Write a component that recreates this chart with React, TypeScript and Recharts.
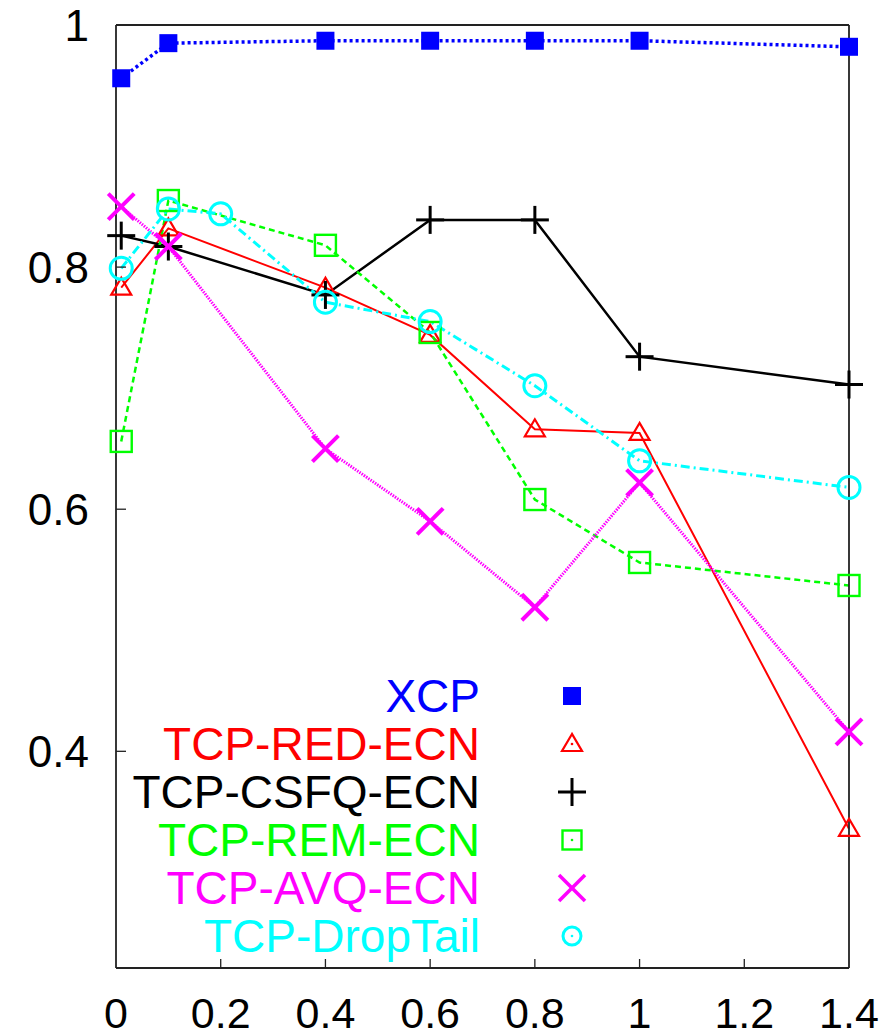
import React from 'react';
import { LineChart, Line, XAxis, YAxis, Legend } from 'recharts';

const xVals = [0.01, 0.1, 0.4, 0.6, 0.8, 1.0, 1.4];
const dropTailX = [0.01, 0.1, 0.2, 0.4, 0.6, 0.8, 1.0, 1.4];

const xcpVals = [0.956, 0.985, 0.987, 0.987, 0.987, 0.987, 0.982];
const redVals = [0.783, 0.832, 0.783, 0.744, 0.666, 0.663, 0.336];
const csfqVals = [0.826, 0.817, 0.777, 0.839, 0.839, 0.726, 0.703];
const remVals = [0.656, 0.855, 0.818, 0.746, 0.608, 0.556, 0.537];
const avqVals = [0.85, 0.817, 0.65, 0.59, 0.519, 0.622, 0.416];
const dropTailVals = [0.799, 0.848, 0.844, 0.771, 0.755, 0.702, 0.64, 0.618];

const xTicks = [0, 0.2, 0.4, 0.6, 0.8, 1, 1.2, 1.4];
const yTicks = [0.4, 0.6, 0.8, 1];

const seriesNames = ['XCP', 'TCP-RED-ECN', 'TCP-CSFQ-ECN', 'TCP-REM-ECN', 'TCP-AVQ-ECN', 'TCP-DropTail'];
const seriesColors = ['#0000ff', '#ff0000', '#000000', '#00ff00', '#ff00ff', '#00ffff'];
const markerKinds = ['fsquare', 'triangle', 'plus', 'square', 'cross', 'circle'];

const toRows = (xs: number[], ys: number[]) => xs.map((x, i) => ({ x, y: ys[i] }));
const xcpData = toRows(xVals, xcpVals);
const redData = toRows(xVals, redVals);
const csfqData = toRows(xVals, csfqVals);
const remData = toRows(xVals, remVals);
const avqData = toRows(xVals, avqVals);
const dropTailData = toRows(dropTailX, dropTailVals);

const FONT = '"Liberation Sans", Arial, Helvetica, sans-serif';
const AXIS = '#222';

function Marker({ kind, cx, cy, color, legend }: any) {
  if (cx == null || cy == null) return null;
  const dot = legend ? <circle cx={cx} cy={cy} r={1.3} fill={color} /> : null;
  switch (kind) {
    case 'fsquare': {
      const s = 18;
      return <rect x={cx - s / 2} y={cy - s / 2} width={s} height={s} fill={color} />;
    }
    case 'triangle':
      return (
        <g>
          <polygon points={`${cx},${cy - 10} ${cx - 10},${cy + 7} ${cx + 10},${cy + 7}`} fill="none" stroke={color} strokeWidth={2.2} />
          {dot}
        </g>
      );
    case 'plus':
      return (
        <g stroke={color} strokeWidth={3}>
          <line x1={cx - 14} y1={cy} x2={cx + 14} y2={cy} />
          <line x1={cx} y1={cy - 14} x2={cx} y2={cy + 14} />
        </g>
      );
    case 'square': {
      const s = legend ? 19 : 21;
      return (
        <g>
          <rect x={cx - s / 2} y={cy - s / 2} width={s} height={s} fill="none" stroke={color} strokeWidth={2.4} />
          {dot}
        </g>
      );
    }
    case 'cross':
      return (
        <g stroke={color} strokeWidth={legend ? 3.5 : 4}>
          <line x1={cx - 13} y1={cy - 13} x2={cx + 13} y2={cy + 13} />
          <line x1={cx - 13} y1={cy + 13} x2={cx + 13} y2={cy - 13} />
        </g>
      );
    case 'circle':
      return (
        <g>
          <circle cx={cx} cy={cy} r={legend ? 9 : 11} fill="none" stroke={color} strokeWidth={3} />
          {dot}
        </g>
      );
    default:
      return null;
  }
}

const makeDot = (i: number) => (p: any) => (
  <g key={`d${i}-${p.index}`}>
    <Marker kind={markerKinds[i]} cx={p.cx} cy={p.cy} color={seriesColors[i]} />
  </g>
);

const fmt = (v: number) => String(v);

const BottomTick = (p: any) => {
  const { x, y, payload } = p;
  const v = payload.value;
  const inner = v > 0 && v < 1.4;
  return (
    <g>
      {inner && <line x1={x} y1={y} x2={x} y2={y - 9} stroke={AXIS} strokeWidth={1.3} />}
      <text x={x} y={y + 60} textAnchor="middle" fontSize={43} fontFamily={FONT} fill="#000">
        {fmt(v)}
      </text>
    </g>
  );
};

const TopTick = (p: any) => {
  const { x, y, payload } = p;
  const v = payload.value;
  const inner = v > 0 && v < 1.4;
  return inner ? <line x1={x} y1={y} x2={x} y2={y + 9} stroke={AXIS} strokeWidth={1.3} /> : <g />;
};

const LeftTick = (p: any) => {
  const { x, y, payload } = p;
  const v = payload.value;
  return (
    <g>
      {v < 1 && <line x1={x} y1={y} x2={x + 10} y2={y} stroke={AXIS} strokeWidth={1.3} />}
      <text x={x - 27} y={y + 16} textAnchor="end" fontSize={44} fontFamily={FONT} fill="#000">
        {fmt(v)}
      </text>
    </g>
  );
};

const RightTick = (p: any) => {
  const { x, y, payload } = p;
  const v = payload.value;
  return v < 1 ? <line x1={x} y1={y} x2={x - 10} y2={y} stroke={AXIS} strokeWidth={1.3} /> : <g />;
};

const renderLegend = () => (
  <svg width={520} height={310} style={{ display: 'block', overflow: 'visible' }}>
    {seriesNames.map((name, i) => {
      const cy = 36 + i * 48;
      return (
        <g key={name}>
          <text x={380} y={cy + 16} textAnchor="end" fontSize={46} fontFamily={FONT} fill={seriesColors[i]}>
            {name}
          </text>
          <Marker kind={markerKinds[i]} cx={472} cy={cy} color={seriesColors[i]} legend />
        </g>
      );
    })}
  </svg>
);

export default function App() {
  return (
    <div style={{ position: 'absolute', left: 0, top: 0, width: 894, height: 1036, background: '#fff' }}>
      <LineChart width={894} height={1036} margin={{ top: 24, right: 44, bottom: 0, left: 0 }}>
        <XAxis
          xAxisId="b"
          type="number"
          dataKey="x"
          domain={[0, 1.4]}
          ticks={xTicks}
          height={68}
          tickSize={0}
          tickMargin={0}
          tickLine={false}
          tick={<BottomTick />}
          axisLine={{ stroke: AXIS, strokeWidth: 1.8 }}
        />
        <XAxis
          xAxisId="t"
          orientation="top"
          type="number"
          dataKey="x"
          domain={[0, 1.4]}
          ticks={xTicks}
          height={1}
          tickSize={0}
          tickMargin={0}
          tickLine={false}
          tick={<TopTick />}
          axisLine={{ stroke: AXIS, strokeWidth: 1.8 }}
        />
        <YAxis
          yAxisId="l"
          type="number"
          domain={[0.221, 1]}
          ticks={yTicks}
          width={116}
          tickSize={0}
          tickMargin={0}
          tickLine={false}
          tick={<LeftTick />}
          axisLine={{ stroke: AXIS, strokeWidth: 1.8 }}
        />
        <YAxis
          yAxisId="r"
          orientation="right"
          type="number"
          domain={[0.221, 1]}
          ticks={yTicks}
          width={1}
          tickSize={0}
          tickMargin={0}
          tickLine={false}
          tick={<RightTick />}
          axisLine={{ stroke: AXIS, strokeWidth: 1.8 }}
        />
        <Legend
          layout="horizontal"
          verticalAlign="middle"
          align="center"
          content={renderLegend}
          wrapperStyle={{ left: 100, top: 660, width: 520, height: 310, pointerEvents: 'none' }}
        />
        <Line xAxisId="b" yAxisId="l" data={xcpData} dataKey="y" name={seriesNames[0]} stroke={seriesColors[0]} strokeWidth={3.5} strokeDasharray="3 3" dot={makeDot(0)} isAnimationActive={false} />
        <Line xAxisId="b" yAxisId="l" data={redData} dataKey="y" name={seriesNames[1]} stroke={seriesColors[1]} strokeWidth={2} dot={makeDot(1)} isAnimationActive={false} />
        <Line xAxisId="b" yAxisId="l" data={csfqData} dataKey="y" name={seriesNames[2]} stroke={seriesColors[2]} strokeWidth={2.5} dot={makeDot(2)} isAnimationActive={false} />
        <Line xAxisId="b" yAxisId="l" data={remData} dataKey="y" name={seriesNames[3]} stroke={seriesColors[3]} strokeWidth={2.5} strokeDasharray="6 4" dot={makeDot(3)} isAnimationActive={false} />
        <Line xAxisId="b" yAxisId="l" data={avqData} dataKey="y" name={seriesNames[4]} stroke={seriesColors[4]} strokeWidth={3} strokeDasharray="1.5 1.2" dot={makeDot(4)} isAnimationActive={false} />
        <Line xAxisId="b" yAxisId="l" data={dropTailData} dataKey="y" name={seriesNames[5]} stroke={seriesColors[5]} strokeWidth={3} strokeDasharray="9 4 2 4" dot={makeDot(5)} isAnimationActive={false} />
      </LineChart>
    </div>
  );
}
